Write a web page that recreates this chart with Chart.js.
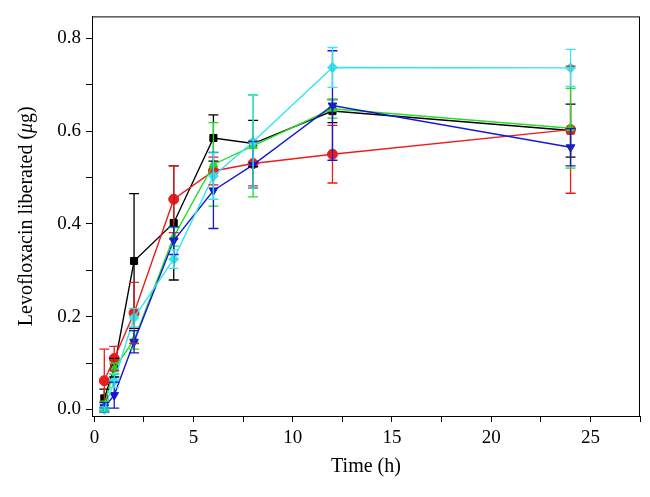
<!DOCTYPE html>
<html>
<head>
<meta charset="utf-8">
<script src="https://cdn.jsdelivr.net/npm/chart.js@4.4.0/dist/chart.umd.min.js"></script>
<style>
  html, body { margin: 0; padding: 0; background: #fff; }
</style>
</head>
<body>
<canvas id="Display" width="650" height="497"></canvas>
<script>
// sampling times (h)
let times = [0.5, 1, 2, 4, 6, 8, 12, 24];

// levofloxacin liberated (ug) and error bars, one pair per series
let black = [0.024, 0.09, 0.32, 0.402, 0.585, 0.573, 0.643, 0.601];
let blackErr = [0.02, 0.02, 0.145, 0.123, 0.05, 0.05, 0.025, 0.057];
let red = [0.062, 0.11, 0.208, 0.453, 0.514, 0.53, 0.55, 0.603];
let redErr = [0.068, 0.026, 0.066, 0.072, 0.03, 0.048, 0.062, 0.137];
let green = [0.008, 0.088, 0.15, 0.372, 0.528, 0.568, 0.648, 0.606];
let greenErr = [0.01, 0.012, 0.02, 0.02, 0.09, 0.11, 0.02, 0.086];
let blue = [0.005, 0.031, 0.146, 0.364, 0.472, 0.527, 0.655, 0.565];
let blueErr = [0.01, 0.028, 0.024, 0.03, 0.082, 0.05, 0.118, 0.04];
let cyan = [0.0, 0.062, 0.198, 0.324, 0.503, 0.577, 0.737, 0.736];
let cyanErr = [0.005, 0.015, 0.02, 0.02, 0.05, 0.1, 0.043, 0.04];

const FONT = "'Liberation Serif', 'DejaVu Serif', serif";

function series(vals, errs, color, style, rot, order) {
  return {
    data: times.map((t, i) => ({ x: t, y: vals[i] })),
    errors: errs,
    borderColor: color,
    backgroundColor: color,
    pointBackgroundColor: color,
    pointBorderColor: color,
    borderWidth: 1.4,
    pointStyle: style,
    pointRotation: rot,
    pointRadius: 5,
    pointBorderWidth: 1,
    tension: 0,
    order: order
  };
}

// error bars with caps, drawn through the scales
const errorBars = {
  id: 'errorBars',
  afterDatasetsDraw(chart) {
    let ctx = chart.ctx;
    let xs = chart.scales.x, ys = chart.scales.y;
    chart.data.datasets.forEach(ds => {
      ctx.save();
      ctx.strokeStyle = ds.borderColor;
      ctx.lineWidth = 1.3;
      ds.data.forEach((p, j) => {
        let e = ds.errors[j];
        let px = xs.getPixelForValue(p.x);
        let top = ys.getPixelForValue(p.y + e);
        let bot = ys.getPixelForValue(p.y - e);
        ctx.beginPath();
        ctx.moveTo(px, top); ctx.lineTo(px, bot);
        ctx.moveTo(px - 5, top); ctx.lineTo(px + 5, top);
        ctx.moveTo(px - 5, bot); ctx.lineTo(px + 5, bot);
        ctx.stroke();
      });
      ctx.restore();
    });
  }
};

// box around the plot and the y title with an italic mu
const frame = {
  id: 'frame',
  afterDraw(chart) {
    let ctx = chart.ctx;
    let a = chart.chartArea;
    ctx.save();
    ctx.strokeStyle = '#000';
    ctx.lineWidth = 1;
    ctx.strokeRect(a.left + 0.5, a.top + 0.5, a.right - a.left - 1, a.bottom - a.top);
    ctx.restore();

    ctx.save();
    ctx.translate(27, (a.top + a.bottom) / 2);
    ctx.rotate(-Math.PI / 2);
    ctx.fillStyle = '#000';
    ctx.textBaseline = 'middle';
    let parts = [["Levofloxacin liberated (", "normal"], ["\u03bc", "italic"], ["g)", "normal"]];
    let w = 0;
    parts.forEach(p => { ctx.font = p[1] + " 20px " + FONT; w += ctx.measureText(p[0]).width; });
    let x = -w / 2;
    parts.forEach(p => {
      ctx.font = p[1] + " 20px " + FONT;
      ctx.fillText(p[0], x, 0);
      x += ctx.measureText(p[0]).width;
    });
    ctx.restore();
  }
};

let chart = new Chart(document.getElementById("Display"), {
  type: "line",
  data: {
    datasets: [
      series(black, blackErr, '#000000', 'rect', 0, 5),
      series(red, redErr, '#ec1c1c', 'circle', 0, 4),
      series(green, greenErr, '#26dc26', 'triangle', 0, 3),
      series(blue, blueErr, '#1616d6', 'triangle', 180, 2),
      series(cyan, cyanErr, '#36e4f0', 'rectRot', 0, 1)
    ]
  },
  options: {
    responsive: false,
    animation: false,
    events: [],
    layout: { padding: { top: 15, right: 10, left: 0, bottom: 0 } },
    plugins: {
      legend: { display: false },
      tooltip: { enabled: false }
    },
    scales: {
      x: {
        type: 'linear',
        min: -0.12,
        max: 27.5,
        afterFit: s => { s.height = 81; },
        border: { color: '#000', width: 1 },
        grid: { drawOnChartArea: false, drawTicks: true, tickLength: 6, color: '#000' },
        ticks: {
          stepSize: 2.5,
          includeBounds: false,
          autoSkip: false,
          maxRotation: 0,
          padding: 5,
          color: '#000',
          font: { family: FONT, size: 19 },
          callback: v => (v % 5 === 0 ? v : '')
        },
        title: {
          display: true,
          text: 'Time (h)',
          color: '#000',
          font: { family: FONT, size: 20 },
          padding: { top: 2, bottom: 18 }
        }
      },
      y: {
        type: 'linear',
        min: -0.014,
        max: 0.847,
        afterFit: s => { s.width = 92; },
        border: { color: '#000', width: 1 },
        grid: { drawOnChartArea: false, drawTicks: true, tickLength: 6, color: '#000' },
        ticks: {
          stepSize: 0.1,
          includeBounds: false,
          autoSkip: false,
          padding: 5,
          color: '#000',
          font: { family: FONT, size: 19 },
          callback: v => (Math.round(v * 10) % 2 === 0 ? v.toFixed(1) : '')
        }
      }
    }
  },
  plugins: [errorBars, frame]
});
</script>
</body>
</html>
